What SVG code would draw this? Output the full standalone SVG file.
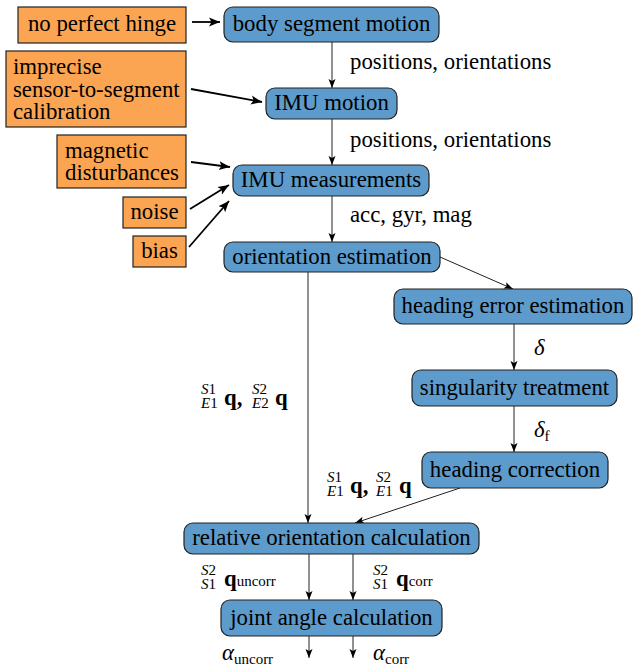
<svg xmlns="http://www.w3.org/2000/svg" width="633" height="668" viewBox="0 0 633 668" font-family="'Liberation Serif', 'DejaVu Serif', serif">
<style>
text{font-family:"Liberation Serif","DejaVu Serif",serif;font-size:22.8px;fill:#000}
.b rect{fill:#5c9bcb;stroke:#222;stroke-width:1.2}
.o rect{fill:#fba552;stroke:#222;stroke-width:1.2}
.c{text-anchor:middle}
.thin{stroke:#222;stroke-width:1;fill:none;marker-end:url(#ah)}
.thick{stroke:#000;stroke-width:1.8;fill:none;marker-end:url(#ahk)}
.s{font-size:15px}
.cal{font-style:italic}
.bq{font-weight:bold}
</style>
<defs>
<marker id="ah" markerUnits="userSpaceOnUse" markerWidth="10" markerHeight="8" refX="9" refY="4" orient="auto">
<path d="M0,0.5 L9,4 L0,7.5 L2,4 z" fill="#000"/>
</marker>
<marker id="ahk" markerUnits="userSpaceOnUse" markerWidth="12" markerHeight="10" refX="11" refY="5" orient="auto">
<path d="M0,0.5 L11,5 L0,9.5 L2.5,5 z" fill="#000"/>
</marker>
</defs>

<g id="connectors">
<line class="thin" x1="332" y1="42" x2="332" y2="88"/>
<line class="thin" x1="332" y1="119" x2="332" y2="165"/>
<line class="thin" x1="332" y1="196" x2="332" y2="242"/>
<line class="thin" x1="440" y1="257" x2="513" y2="289"/>
<line class="thin" x1="514" y1="324" x2="514" y2="370"/>
<line class="thin" x1="514" y1="406" x2="514" y2="452"/>
<line class="thin" x1="308" y1="272" x2="308" y2="523"/>
<line class="thin" x1="460" y1="488" x2="355" y2="523"/>
<line class="thin" x1="309" y1="554" x2="309" y2="600"/>
<line class="thin" x1="353" y1="554" x2="353" y2="600"/>
<line class="thin" x1="309" y1="636" x2="309" y2="658"/>
<line class="thin" x1="353" y1="636" x2="353" y2="658"/>
<line class="thick" x1="192" y1="22" x2="220" y2="22"/>
<line class="thick" x1="191" y1="89" x2="262" y2="102"/>
<line class="thick" x1="191" y1="162" x2="230" y2="167"/>
<line class="thick" x1="190" y1="209" x2="229" y2="185"/>
<line class="thick" x1="189" y1="247" x2="229" y2="201"/>
</g>

<g id="lbl-pos1"><text x="350" y="69">positions, orientations</text></g>
<g id="lbl-pos2"><text x="350" y="147">positions, orientations</text></g>
<g id="lbl-acc"><text x="350" y="222">acc, gyr, mag</text></g>
<g id="lbl-delta"><text x="534" y="355" class="cal">δ</text></g>
<g id="lbl-deltaf"><text x="534" y="437"><tspan class="cal">δ</tspan><tspan class="s" dy="4">f</tspan></text></g>

<g id="lbl-q1"><text><tspan class="s cal" x="201" y="394">S</tspan><tspan class="s">1</tspan><tspan class="s cal" x="201" y="408">E</tspan><tspan class="s">1</tspan><tspan class="bq" x="224" y="405">q,</tspan><tspan class="s cal" x="252" y="394">S</tspan><tspan class="s">2</tspan><tspan class="s cal" x="252" y="408">E</tspan><tspan class="s">2</tspan><tspan class="bq" x="275" y="405">q</tspan></text></g>
<g id="lbl-q2"><text><tspan class="s cal" x="327" y="482">S</tspan><tspan class="s">1</tspan><tspan class="s cal" x="327" y="496">E</tspan><tspan class="s">1</tspan><tspan class="bq" x="350" y="493">q,</tspan><tspan class="s cal" x="376" y="482">S</tspan><tspan class="s">2</tspan><tspan class="s cal" x="376" y="496">E</tspan><tspan class="s">1</tspan><tspan class="bq" x="399" y="493">q</tspan></text></g>
<g id="lbl-q3"><text><tspan class="s cal" x="201" y="575">S</tspan><tspan class="s">2</tspan><tspan class="s cal" x="201" y="589">S</tspan><tspan class="s">1</tspan><tspan class="bq" x="224" y="586">q</tspan><tspan class="s">uncorr</tspan></text></g>
<g id="lbl-q4"><text><tspan class="s cal" x="373" y="575">S</tspan><tspan class="s">2</tspan><tspan class="s cal" x="373" y="589">S</tspan><tspan class="s">1</tspan><tspan class="bq" x="396" y="586">q</tspan><tspan class="s">corr</tspan></text></g>
<g id="lbl-a1"><text x="222" y="660"><tspan class="cal">α</tspan><tspan class="s" dy="4">uncorr</tspan></text></g>
<g id="lbl-a2"><text x="373" y="660"><tspan class="cal">α</tspan><tspan class="s" dy="4">corr</tspan></text></g>

<g id="body" class="b"><rect x="224" y="7" width="215" height="35" rx="9"/><text class="c" x="331.5" y="31">body segment motion</text></g>
<g id="imumotion" class="b"><rect x="266" y="88" width="131" height="31" rx="9"/><text class="c" x="331.5" y="110">IMU motion</text></g>
<g id="imumeas" class="b"><rect x="233" y="165" width="196" height="31" rx="9"/><text class="c" x="331" y="187">IMU measurements</text></g>
<g id="orient" class="b"><rect x="224" y="242" width="216" height="30" rx="9"/><text class="c" x="332" y="264">orientation estimation</text></g>
<g id="heading-err" class="b"><rect x="394" y="289" width="238" height="35" rx="9"/><text class="c" x="513" y="313">heading error estimation</text></g>
<g id="singular" class="b"><rect x="412" y="370" width="205" height="36" rx="9"/><text class="c" x="514.5" y="395">singularity treatment</text></g>
<g id="heading-corr" class="b"><rect x="422" y="452" width="186" height="36" rx="9"/><text class="c" x="515" y="477">heading correction</text></g>
<g id="relative" class="b"><rect x="184" y="523" width="295" height="31" rx="9"/><text class="c" x="331.5" y="545">relative orientation calculation</text></g>
<g id="joint" class="b"><rect x="221" y="600" width="221" height="36" rx="9"/><text class="c" x="331.5" y="625">joint angle calculation</text></g>

<g id="hinge" class="o"><rect x="18" y="7" width="168" height="36"/><text class="c" x="102" y="31">no perfect hinge</text></g>
<g id="calib" class="o"><rect x="6" y="51" width="180" height="76"/><text x="13" y="74">imprecise</text><text x="13" y="97">sensor-to-segment</text><text x="13" y="119">calibration</text></g>
<g id="magnetic" class="o"><rect x="57" y="135" width="129" height="53"/><text x="65" y="158">magnetic</text><text x="65" y="180">disturbances</text></g>
<g id="noise" class="o"><rect x="123" y="197" width="63" height="31"/><text class="c" x="154.5" y="219">noise</text></g>
<g id="bias" class="o"><rect x="133" y="236" width="53" height="31"/><text class="c" x="159.5" y="258">bias</text></g>
</svg>
